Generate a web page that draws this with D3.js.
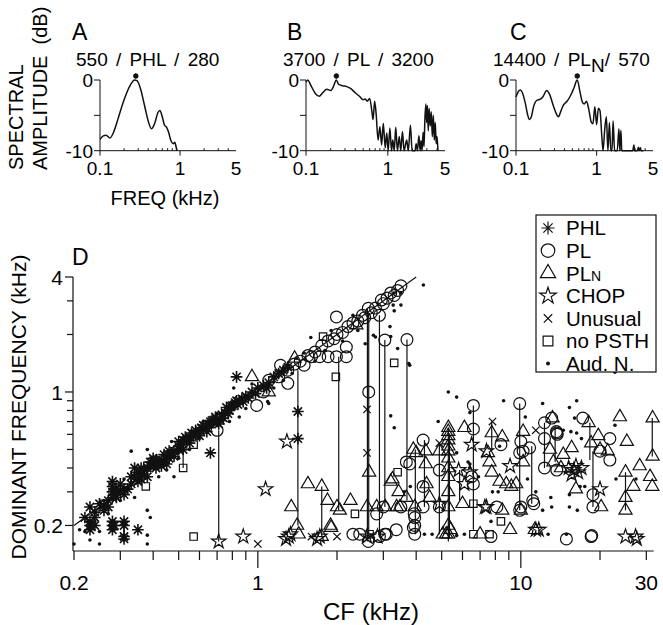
<!DOCTYPE html>
<html>
<head>
<meta charset="utf-8">
<script src="https://cdn.jsdelivr.net/npm/d3@7"></script>
<style>
  body { margin: 0; background: #fff; }
  svg { display: block; font-family: "Liberation Sans", Arial, Helvetica, sans-serif; }
</style>
</head>
<body>
<svg id="chart" width="663" height="625"></svg>
<script>
const specA = [[0.1,-8.4],[0.11,-7.9],[0.119,-7.8],[0.133,-8.2],[0.15,-7.2],[0.17,-5.3],[0.2,-2.8],[0.24,-0.7],[0.27,0],[0.29,-0.1],[0.32,-1.2],[0.36,-3.6],[0.4,-5.8],[0.44,-6.9],[0.48,-6.2],[0.53,-4.6],[0.56,-4.3],[0.6,-5.2],[0.64,-6.4],[0.68,-6.7],[0.72,-7.4],[0.77,-8.6],[0.82,-9.0],[0.86,-8.8],[0.89,-9.4],[0.92,-10]];
const specB = [[0.1,-0.3],[0.105,0],[0.115,-0.8],[0.13,-1.9],[0.145,-2.3],[0.16,-1.8],[0.18,-1.3],[0.2,-1.5],[0.215,-1.0],[0.235,0],[0.25,-0.6],[0.28,-0.8],[0.31,-0.9],[0.35,-1.2],[0.4,-1.8],[0.45,-2.3],[0.5,-2.8],[0.53,-2.7],[0.56,-3.0],[0.6,-2.6],[0.64,-4.5],[0.66,-5.6],[0.69,-3.0],[0.72,-4.8],[0.76,-8.5],[0.8,-6.6],[0.84,-9.2],[0.88,-6.1],[0.93,-9.6],[0.97,-7.5],[1.01,-10],[1.06,-6.8],[1.11,-10],[1.15,-8.5],[1.2,-10],[1.25,-6.7],[1.31,-10],[1.38,-8.0],[1.44,-10],[1.51,-7.3],[1.58,-10],[1.7,-8.5],[1.78,-10],[1.89,-6.4],[1.98,-10],[2.15,-10],[2.22,-9.0],[2.3,-10],[2.4,-7.9],[2.48,-10],[2.55,-8.6],[2.62,-10],[2.7,-7.4],[2.77,-9.4],[2.84,-5.5],[2.92,-3.4],[2.98,-6.0],[3.05,-3.6],[3.12,-7.2],[3.2,-4.0],[3.3,-6.5],[3.4,-4.5],[3.5,-8.0],[3.6,-5.0],[3.7,-8.5],[3.8,-6.0],[3.9,-9.0],[4.0,-8.0],[4.1,-10]];
const specC = [[0.1,-2.4],[0.107,-1.6],[0.113,-1.4],[0.12,-1.8],[0.13,-3.2],[0.14,-5.0],[0.147,-5.6],[0.155,-5.2],[0.165,-3.8],[0.18,-2.9],[0.2,-2.7],[0.215,-2.4],[0.24,-1.5],[0.26,-2.0],[0.29,-3.6],[0.32,-4.9],[0.336,-5.2],[0.36,-4.4],[0.39,-3.5],[0.43,-3.0],[0.47,-2.3],[0.52,-1.2],[0.575,0],[0.62,-1.6],[0.66,-3.0],[0.7,-3.4],[0.75,-3.0],[0.8,-4.2],[0.86,-6.0],[0.9,-6.2],[0.95,-3.8],[1.0,-6.3],[1.05,-4.0],[1.1,-4.3],[1.16,-8.0],[1.2,-10],[1.26,-7.0],[1.32,-5.2],[1.38,-10],[1.44,-6.0],[1.5,-10],[1.55,-10],[1.6,-5.8],[1.67,-10],[1.8,-10],[1.89,-6.9],[1.94,-10],[2.0,-7.1],[2.05,-10],[2.8,-10],[2.9,-9.2],[2.95,-10],[3.2,-10],[3.3,-9.5],[3.35,-10],[3.5,-9.6],[3.55,-10],[3.8,-10]];
const specPeaks = [0.28, 0.235, 0.575];
const specXTicks = [0.1, 1, 5];
const specYTicks = [0, -10];

// ---- panel D: [CF kHz, dominant frequency kHz] ----
const phl = [[0.22,0.22],[0.23,0.25],[0.24,0.235],[0.25,0.26],[0.26,0.255],[0.27,0.27],[0.28,0.28],[0.28,0.30],[0.28,0.32],[0.28,0.34],[0.285,0.29],[0.29,0.28],[0.3,0.3],[0.31,0.31],[0.32,0.31],[0.33,0.33],[0.34,0.36],[0.34,0.40],[0.35,0.38],[0.36,0.37],[0.37,0.39],[0.38,0.40],[0.39,0.41],[0.40,0.42],[0.41,0.40],[0.42,0.42],[0.43,0.44],[0.44,0.43],[0.45,0.46],[0.46,0.45],[0.47,0.48],[0.48,0.49],[0.5,0.5],[0.5,0.55],[0.51,0.53],[0.52,0.56],[0.54,0.56],[0.55,0.58],[0.56,0.61],[0.57,0.59],[0.58,0.6],[0.6,0.63],[0.61,0.65],[0.62,0.64],[0.64,0.65],[0.65,0.68],[0.67,0.71],[0.68,0.69],[0.7,0.72],[0.72,0.71],[0.73,0.76],[0.75,0.78],[0.76,0.83],[0.78,0.8],[0.8,0.85],[0.82,0.88],[0.83,0.9],[0.85,0.9],[0.87,0.92],[0.9,0.95],[0.92,0.93],[0.95,1.0],[1.0,1.05],[1.05,1.08],[1.1,1.12],[1.15,1.2],[1.2,1.25],[1.25,1.3],[1.3,1.35],
  [0.24,0.22],[0.26,0.24],[0.27,0.25],[0.29,0.31],[0.3,0.33],[0.31,0.29],[0.33,0.36],[0.35,0.34],[0.36,0.40],[0.38,0.36],[0.39,0.43],[0.41,0.44],[0.43,0.41],[0.44,0.47],[0.46,0.49],[0.48,0.46],[0.5,0.52],[0.52,0.5],[0.53,0.58],[0.55,0.54],[0.58,0.63],[0.6,0.59],[0.62,0.67],[0.64,0.62],[0.66,0.7],[0.69,0.74],[0.71,0.68],[0.74,0.73],[0.77,0.77],[0.79,0.84],[0.84,0.86],[0.88,0.89],[0.98,0.98],[1.08,1.05],[0.4,0.45],[0.36,0.35],[0.45,0.42],
  [0.66,0.48],[0.83,1.2],[1.42,0.79],[1.42,0.57],[0.23,0.19],[0.23,0.2],[0.23,0.21],[0.24,0.2],[0.28,0.19],[0.28,0.2],[0.28,0.21],[0.285,0.2],[0.31,0.2],[0.31,0.21],[0.31,0.17],[0.31,0.175],[0.35,0.19]];
const pl = [[0.7,0.63],[0.99,0.85],[1.05,1.0],[1.1,1.15],[1.2,1.2],[1.22,1.38],[1.3,1.11],[1.3,1.3],[1.38,1.4],[1.45,1.45],[1.5,1.38],[1.55,1.55],[1.6,1.53],[1.65,1.62],[1.72,1.53],[1.75,1.75],[1.85,1.53],[1.85,1.85],[1.95,1.9],[1.99,1.53],[2.0,2.0],[2.1,2.05],[2.17,1.53],[2.17,1.72],[2.2,2.2],[2.3,2.3],[2.4,2.35],[2.5,2.52],[2.55,2.45],[2.63,2.74],[2.7,2.6],[2.8,2.75],[2.9,2.52],[2.95,3.03],[3.0,2.9],[3.1,3.1],[3.2,3.3],[3.3,3.2],[3.4,3.4],[3.5,3.6],[1.99,2.47],[2.64,1.0],[3.04,1.87],[3.69,1.88],
  [3.67,0.43],[4.25,0.56],[4.25,0.32],[3.78,0.42],[6.6,0.85],[6.6,0.64],[6.6,0.33],[6.5,0.36],[9.9,0.87],[9.9,0.48],[10,0.55],[10.2,0.49],[11.1,0.27],[11.2,0.26],[12.3,0.69],[13.1,0.73],[12.3,0.57],[12.3,0.4],[13.7,0.61],[13.75,0.6],[13.65,0.62],[13.7,0.39],[17.2,0.73],[18.8,0.29],[18.8,0.25],[21.8,0.57],[21.8,0.44],[20,0.49],[4.25,0.25],[3.95,0.22],[3.95,0.2],[3.95,0.18],[3.36,0.19],[3.08,0.18],[2.3,0.18],[2.44,0.18],[2.63,0.165],[2.9,0.175],[7.7,0.175],[8.1,0.25],[9.9,0.24],[10,0.25],[14.9,0.17],[18.5,0.175],[18.6,0.177],[3.0,0.25],[2.83,0.23],[3.5,0.25],[3.93,0.23],[3.9,0.195],[4.9,0.39],[4.9,0.25],[10.8,0.51],[8.4,0.53],[3.04,0.18]];
const pln = [[0.95,1.2],[1.38,1.5],[2.37,2.24],[1.1,1.0],
  [1.34,0.25],[1.41,0.2],[1.43,0.18],[1.55,0.33],[1.75,0.32],[1.84,0.27],[1.89,0.2],[1.75,0.175],[2.0,0.25],[2.05,0.24],[2.25,0.27],[2.65,0.38],[2.6,0.25],[2.83,0.25],[3.25,0.35],[3.43,0.3],[3.67,0.28],[3.37,0.25],[3.9,0.5],[4.0,0.48],[3.95,0.25],[3.05,0.25],[1.9,0.195],[3.2,0.34],[3.47,0.25],[4.35,0.49],[4.35,0.42],[4.38,0.33],[4.5,0.28],[4.9,0.49],
  [5.3,0.65],[5.3,0.62],[5.3,0.59],[5.3,0.56],[5.3,0.52],[5.3,0.49],[5.3,0.45],[5.3,0.4],[5.3,0.36],[5.3,0.3],[5.3,0.25],[5.3,0.2],[5.3,0.18],[5.4,0.19],[5.05,0.18],[5.2,0.18],
  [6.0,0.26],[6.1,0.65],[7.6,0.43],[7.75,0.61],[8.5,0.58],[7.75,0.38],[8.3,0.34],[8.8,0.33],[9.2,0.32],[9.6,0.33],[9.1,0.19],[10.2,0.62],[10.2,0.43],[10,0.24],[7.5,0.48],[7,0.18],[8.5,0.24],
  [13.2,0.73],[13.3,0.43],[14.5,0.47],[15.6,0.51],[16.2,0.31],[18.1,0.69],[19.7,0.59],[18.5,0.54],[20,0.5],[21.4,0.49],[20.2,0.25],[23.8,0.74],[25.3,0.55],[25,0.38],[25,0.28],[25,0.24],[28.3,0.41],[26.8,0.32],[31.7,0.73],[31.7,0.46],[31,0.36],[31.6,0.32],[14.2,0.4],[12.9,0.5],[11.3,0.19]];
const chop = [[0.71,0.165],[0.88,0.175],[1.29,0.55],[1.07,0.31],[1.31,0.175],[1.33,0.18],[1.28,0.17],[1.68,0.17],[1.72,0.175],[2.6,0.175],[2.85,0.175],[4.9,0.26],[5.8,0.39],[6.5,0.53],[6.4,0.38],[6.1,0.33],[7.3,0.25],[7.4,0.25],[7.4,0.49],[9.1,0.41],[11.4,0.19],[11.7,0.19],[15.6,0.37],[16.2,0.41],[17,0.4],[16.5,0.38],[15.2,0.4],[15.9,0.39],[20,0.31],[25,0.175],[27.3,0.175],[27.6,0.17]];
const unusual = [[1.0,0.16],[1.6,0.175],[2.0,0.175],[2.6,0.81],[2.6,0.48],[7.8,0.7],[11.4,0.63],[4.9,0.54],[2.6,0.17]];
const noPsth = [[0.57,0.175],[0.375,0.32],[0.38,0.41],[0.52,0.52],[0.52,0.4],[0.57,0.53],[0.26,0.26],[1.77,1.95],[1.98,1.2],[3.3,1.42],[2.34,0.23],[3.4,0.38],[6.6,0.26],[8.4,0.21],[2.66,0.18],[6.6,0.18],[7.6,0.18]];
const audN = [[0.2,0.16],[0.22,0.186],[0.23,0.168],[0.25,0.16],[0.25,0.186],[0.21,0.19],[0.24,0.21],[0.27,0.23],[0.26,0.27],[0.3,0.27],[0.31,0.35],[0.33,0.49],[0.34,0.28],[0.38,0.5],[0.38,0.24],[0.38,0.178],[0.38,0.16],[0.39,0.22],[0.41,0.46],[0.42,0.36],[0.45,0.39],[0.47,0.55],[0.48,0.36],[0.5,0.45],[0.55,0.5],[0.6,0.57],[0.62,0.7],[0.7,0.77],[0.78,0.7],[0.81,1.05],[0.85,0.74],[0.9,0.82],[0.95,1.1],[1.09,0.89],[1.1,0.87],[1.15,1.05],[1.25,1.15],[1.35,1.25],[1.4,1.5],[1.5,1.6],[1.59,1.93],[1.65,1.45],[1.8,1.65],[1.9,2.1],[2.1,1.85],[2.3,2.52],[2.4,2.1],[2.56,1.79],[2.75,1.98],[2.8,1.94],[3.18,2.2],[3.2,1.95],[3.27,2.85],[3.3,2.66],[3.3,3.3],[3.4,1.69],[3.5,2.85],[3.5,3.3],[3.78,1.38],[3.75,1.41],[4.26,3.63],[3.3,0.65],
  [5.3,1.0],[5.7,0.94],[4.85,0.7],[6.4,0.78],[6.4,0.42],[6.4,0.4],[8.6,0.9],[10.4,0.74],[7.8,0.3],[8.2,0.3],[7.7,0.21],[4.6,0.18],[4.3,0.18],[6.1,0.18],[10.6,0.35],[6.9,0.36],[12.1,0.87],[15.3,0.83],[16.3,0.9],[16,0.73],[22.8,0.67],[22.8,1.27],[13,0.28],[13.1,0.25],[15.3,0.25],[16.4,0.24],[16.8,0.32],[17.5,0.32],[15.3,0.29],[27.4,0.35],[23,0.35],[12.7,0.18],[14.9,0.18],[11.4,0.3],[12.1,0.24],[16.3,0.61],[17,0.57],[8.3,0.52],[14.5,0.63],[15.5,0.62],[5.7,0.48],[6.3,0.43],[3.2,0.75],[5.7,0.177],[3.6,0.3],[3.8,0.32]];
// same unit, two dominant frequencies: [CF, high, low]
const links = [[0.31,0.2,0.17],[0.52,0.52,0.40],[0.71,0.63,0.165],[1.42,1.3,0.2],[1.75,0.32,0.175],[2.03,1.53,0.24],[2.61,2.74,0.165],[2.64,2.6,0.17],[2.9,2.52,0.175],[3.04,1.87,0.25],[3.69,1.88,0.27],[3.97,0.5,0.18],[4.3,0.56,0.25],[4.9,0.54,0.18],[5.3,0.65,0.165],[5.35,0.6,0.17],[5.85,0.39,0.27],[6.6,0.85,0.19],[7.75,0.7,0.5],[9.9,0.87,0.24],[11.0,0.52,0.26],[12.3,0.69,0.4],[13.5,0.66,0.43],[18.3,0.69,0.44],[18.8,0.49,0.25],[25,0.38,0.24],[31.6,0.73,0.46]];
const identityLine = [0.2, 4];
const xTickLabels = [0.2, 1, 10, 30];
const xMinor = [0.3,0.4,0.5,0.6,0.7,0.8,0.9,2,3,4,5,6,7,8,9,20];
const yTickLabels = [4, 1, 0.2];
const yMinor = [3,2,0.9,0.8,0.7,0.6,0.5,0.4,0.3];
const legendItems = ["PHL","PL","PLN","CHOP","Unusual","no PSTH","Aud. N."];

const svg = d3.select("#chart");

// custom marks
const asterisk = { draw(ctx, size) { const r = Math.sqrt(size) / 2;
  for (let k = 0; k < 4; k++) { const a = k * Math.PI / 4; ctx.moveTo(r*Math.cos(a), r*Math.sin(a)); ctx.lineTo(-r*Math.cos(a), -r*Math.sin(a)); } } };
const cross = { draw(ctx, size) { const r = Math.sqrt(size) / 2;
  ctx.moveTo(-r,-r); ctx.lineTo(r,r); ctx.moveTo(-r,r); ctx.lineTo(r,-r); } };

// ---------- spectra A B C ----------
const specPanels = [
  { letter: "A", data: specA, peak: specPeaks[0], x0: 100, x1: 236, lx: 72, tx: 76, title: ["550 / PHL / 280"] },
  { letter: "B", data: specB, peak: specPeaks[1], x0: 306, x1: 445, lx: 287, tx: 283, title: ["3700 / PL / 3200"] },
  { letter: "C", data: specC, peak: specPeaks[2], x0: 516, x1: 653, lx: 510, tx: 493, title: ["14400 / PL", "N", "/ 570"] }
];
const sy = d3.scaleLinear().domain([-10, 0]).range([150.7, 80]);

specPanels.forEach(p => {
  const sx = d3.scaleLog().domain([0.1, 5]).range([p.x0, p.x1]);
  const g = svg.append("g");
  g.append("text").attr("x", p.lx).attr("y", 40).attr("font-size", 23).text(p.letter);
  const t = g.append("text").attr("x", p.tx).attr("y", 66).attr("font-size", 19).style("word-spacing", "3px");
  t.append("tspan").text(p.title[0]);
  if (p.title.length > 1) {
    t.append("tspan").attr("dy", 6).attr("font-size", 19).text(p.title[1]);
    t.append("tspan").attr("dy", -6).text(p.title[2]);
  }
  g.append("path").datum(p.data)
    .attr("d", d3.line().x(d => sx(d[0])).y(d => sy(d[1])).curve(d3.curveMonotoneX))
    .attr("fill", "none").attr("stroke", "#111").attr("stroke-width", 1.5);
  // axes
  g.append("line").attr("x1", p.x0).attr("x2", p.x0).attr("y1", sy(0)).attr("y2", sy(-10)).attr("stroke", "#111");
  g.append("line").attr("x1", p.x0).attr("x2", p.x1).attr("y1", sy(-10)).attr("y2", sy(-10)).attr("stroke", "#111");
  g.selectAll(".yt").data([0, -5, -10]).enter().append("line")
    .attr("x1", p.x0 - 6).attr("x2", p.x0).attr("y1", d => sy(d)).attr("y2", d => sy(d)).attr("stroke", "#111");
  g.selectAll(".yl").data(specYTicks).enter().append("text")
    .attr("x", p.x0 - 7).attr("y", d => sy(d)).attr("dy", "0.36em").attr("text-anchor", "end").attr("font-size", 19)
    .text(d => d === 0 ? "0" : "-10");
  g.selectAll(".xm").data([0.1, 1]).enter().append("line")
    .attr("x1", d => sx(d)).attr("x2", d => sx(d)).attr("y1", sy(-10)).attr("y2", sy(-10) + 5).attr("stroke", "#111");
  g.selectAll(".xn").data([0.2,0.3,0.4,0.5,0.6,0.7,0.8,0.9,2,3,4]).enter().append("line")
    .attr("x1", d => sx(d)).attr("x2", d => sx(d)).attr("y1", sy(-10)).attr("y2", sy(-10) - 2.5).attr("stroke", "#111");
  g.selectAll(".xl").data(specXTicks).enter().append("text")
    .attr("x", d => sx(d)).attr("y", 175).attr("text-anchor", "middle").attr("font-size", 19).text(d => d);
  g.append("path").attr("transform", `translate(${sx(p.peak)},${sy(0) - 4})`)
    .attr("d", d3.symbol().type(asterisk).size(30)).attr("stroke", "#111").attr("stroke-width", 1.6).attr("fill", "none");
});
svg.append("text").attr("transform", "translate(23,170) rotate(-90)").attr("font-size", 20).text("SPECTRAL");
svg.append("text").attr("transform", "translate(47,170) rotate(-90)").attr("font-size", 20).text("AMPLITUDE  (dB)").style("white-space", "pre");
svg.append("text").attr("x", 165).attr("y", 205).attr("text-anchor", "middle").attr("font-size", 20).text("FREQ (kHz)");

// ---------- panel D ----------
const x = d3.scaleLog().domain([0.2, 32]).range([74, 653.7]);
const y = d3.scaleLog().domain([0.147, 4]).range([551, 277]);
const D = svg.append("g");

D.append("line").attr("x1", 73).attr("x2", 73).attr("y1", y(4)).attr("y2", 551).attr("stroke", "#111").attr("stroke-width", 1.2);
D.append("line").attr("x1", 73).attr("x2", x.range()[1]).attr("y1", 551).attr("y2", 551).attr("stroke", "#111").attr("stroke-width", 1.2);
D.selectAll(".ytk").data(yTickLabels.concat(yMinor)).enter().append("line")
  .attr("x1", d => yTickLabels.includes(d) ? 65 : 67).attr("x2", 73).attr("y1", d => y(d)).attr("y2", d => y(d)).attr("stroke", "#111").attr("stroke-width", 1.2);
D.selectAll(".ylb").data(yTickLabels).enter().append("text")
  .attr("x", 63).attr("y", d => y(d)).attr("dy", "0.36em").attr("text-anchor", "end").attr("font-size", 21).text(d => d);
D.selectAll(".xtk").data(xTickLabels.concat(xMinor)).enter().append("line")
  .attr("x1", d => x(d)).attr("x2", d => x(d)).attr("y1", 551).attr("y2", d => (d === 1 || d === 10) ? 568 : 560)
  .attr("stroke", "#111").attr("stroke-width", 1.2);
D.selectAll(".xlb").data(xTickLabels).enter().append("text")
  .attr("x", d => x(d)).attr("y", 590).attr("text-anchor", "middle").attr("font-size", 21).text(d => d);
D.append("text").attr("x", 371).attr("y", 620).attr("text-anchor", "middle").attr("font-size", 24).text("CF (kHz)");
D.append("text").attr("transform", "translate(26,407) rotate(-90)").attr("text-anchor", "middle").attr("font-size", 21).text("DOMINANT FREQUENCY (kHz)");
D.append("text").attr("x", 72).attr("y", 265).attr("font-size", 23).text("D");

// y = x line
D.append("line").attr("x1", x(identityLine[0])).attr("y1", y(identityLine[0]))
  .attr("x2", x(identityLine[1])).attr("y2", y(identityLine[1])).attr("stroke", "#111").attr("stroke-width", 1.2);
// links between dominant frequencies of the same unit
D.selectAll(".link").data(links).enter().append("line")
  .attr("x1", d => x(d[0])).attr("x2", d => x(d[0])).attr("y1", d => y(d[1])).attr("y2", d => y(d[2]))
  .attr("stroke", "#111").attr("stroke-width", 1.2);

function marks(data, type, size, sw) {
  D.append("g").selectAll("path").data(data).enter().append("path")
    .attr("transform", d => `translate(${x(d[0])},${y(d[1])})`)
    .attr("d", d3.symbol().type(type).size(size))
    .attr("fill", "none").attr("stroke", "#111").attr("stroke-width", sw);
}
marks(phl, asterisk, 135, 1.6);
marks(pl, d3.symbolCircle, 110, 1.2);
marks(pln, d3.symbolTriangle, 75, 1.2);
marks(chop, d3.symbolStar, 65, 1.2);
marks(unusual, cross, 55, 1.2);
marks(noPsth, d3.symbolSquare, 55, 1.2);
D.append("g").selectAll("circle").data(audN).enter().append("circle")
  .attr("cx", d => x(d[0])).attr("cy", d => y(d[1])).attr("r", 1.8).attr("fill", "#111");

// legend
const L = svg.append("g");
L.append("rect").attr("x", 536).attr("y", 215).attr("width", 120).attr("height", 157).attr("fill", "#fff").attr("stroke", "#111").attr("stroke-width", 1.2);
const legTypes = [asterisk, d3.symbolCircle, d3.symbolTriangle, d3.symbolStar, cross, d3.symbolSquare, null];
const legSizes = [170, 145, 100, 85, 70, 95, 0];
legendItems.forEach((name, i) => {
  const cy = 228 + i * 22.6;
  if (legTypes[i]) {
    L.append("path").attr("transform", `translate(548,${cy})`).attr("d", d3.symbol().type(legTypes[i]).size(legSizes[i]))
      .attr("fill", "none").attr("stroke", "#111").attr("stroke-width", 1.2);
  } else {
    L.append("circle").attr("cx", 548).attr("cy", cy).attr("r", 2).attr("fill", "#111");
  }
  const t = L.append("text").attr("x", 566).attr("y", cy).attr("dy", "0.36em").attr("font-size", 20.5);
  if (name === "PLN") { t.append("tspan").text("PL"); t.append("tspan").attr("font-size", 14).text("N"); }
  else t.text(name);
});
</script>
</body>
</html>
